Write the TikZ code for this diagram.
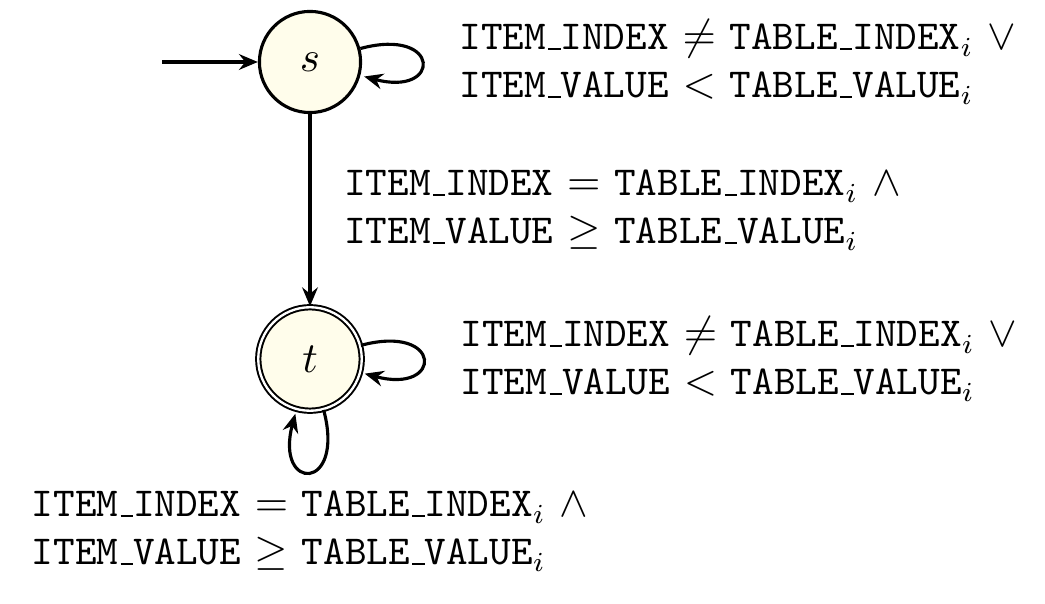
\documentclass[tikz,border=0pt]{standalone}
\usetikzlibrary{arrows.meta,automata}
\definecolor{statefill}{RGB}{255,253,235}
\newcommand\myus{\leavevmode\kern.06em\vbox{\hrule width.3em height 0.45pt}}
\newcommand\II{\texttt{ITEM\myus INDEX}}
\newcommand\IV{\texttt{ITEM\myus VALUE}}
\newcommand\TI{\texttt{TABLE\myus INDEX}$_i$}
\newcommand\TV{\texttt{TABLE\myus VALUE}$_i$}
\begin{document}
\begin{tikzpicture}[x=0.2551pt,y=-0.2551pt,
  >={Stealth[length=4.8pt,width=4pt,inset=1.6pt]},
  every edge/.style={draw,thick,->},
  stateS/.style={circle,draw,thick,fill=statefill,minimum size=25.8pt,inner sep=0pt,font=\fontsize{10.5}{12.3}\selectfont},
  stateT/.style={circle,draw,line width=0.5pt,double,double distance=0.6pt,fill=statefill,minimum size=26.4pt,inner sep=0pt,font=\fontsize{10.5}{12.3}\selectfont},
  lbl/.style={align=left,font=\fontsize{10.5}{12.25}\selectfont}]
\useasboundingbox (0,0) rectangle (1045,604);
\node[stateS] (s) at (310,62) {$s$};
\node[stateT] (t) at (310,359) {$t$};
\coordinate (init) at (162,62);
\draw[thick,->] (init) -- (s);
\path (s) edge node[right=5pt,lbl] {\II{} $=$ \TI{} $\land$\\\IV{} $\geq$ \TV} (t);
\path (s) edge[loop right] node[right=6pt,lbl] {\II{} $\neq$ \TI{} $\lor$\\\IV{} $<$ \TV} (s);
\path (t) edge[loop right] node[right=6pt,lbl] {\II{} $\neq$ \TI{} $\lor$\\\IV{} $<$ \TV} (t);
\path (t) edge[loop below] node[below=1.2pt,lbl] {\II{} $=$ \TI{} $\land$\\\IV{} $\geq$ \TV} (t);
\end{tikzpicture}
\end{document}
